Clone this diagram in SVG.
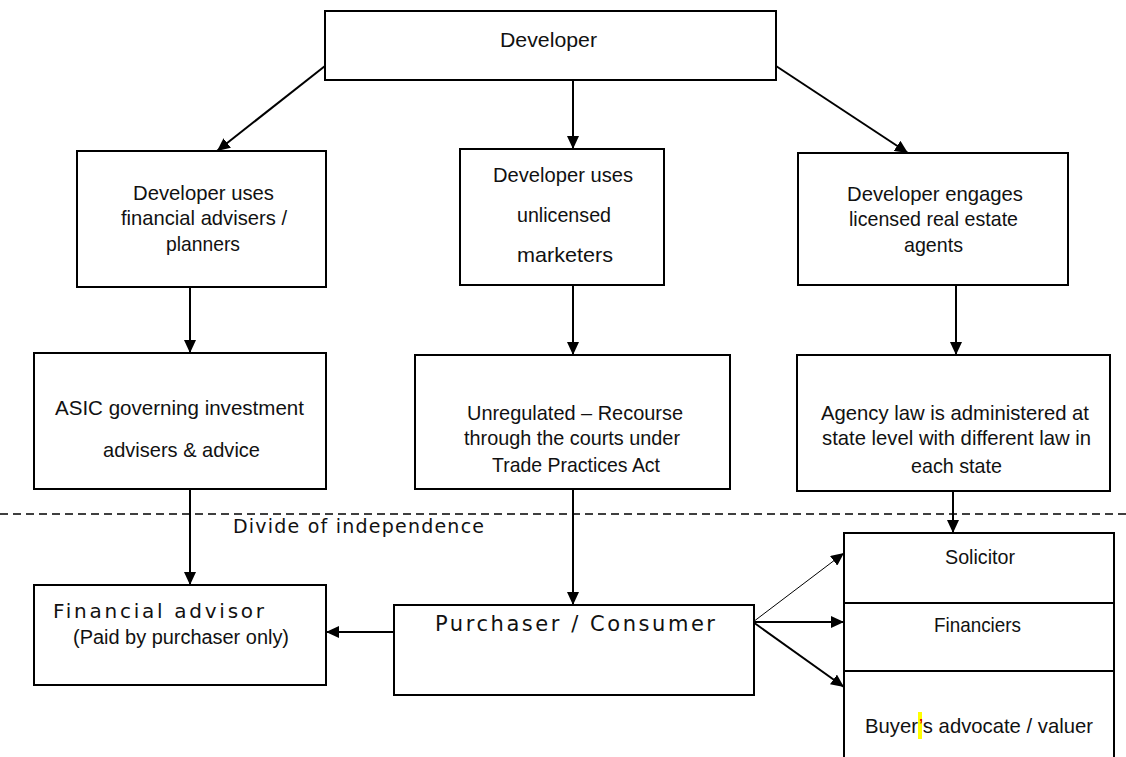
<svg xmlns="http://www.w3.org/2000/svg" width="1126" height="757" viewBox="0 0 1126 757">
<style>
.box{fill:#fff;stroke:#000;stroke-width:2}
.t{font-family:"Liberation Sans",Arial,sans-serif;font-size:21px;fill:#111}
.v{font-family:"DejaVu Sans",Verdana,sans-serif;font-size:19px;fill:#111}
.c{stroke:#000;stroke-width:2;fill:none}
</style>
<defs>
<marker id="ah" markerWidth="13" markerHeight="12" refX="13" refY="6" orient="auto" markerUnits="userSpaceOnUse"><path d="M0,0 L13,6 L0,12 z" fill="#000"/></marker>
</defs>
<rect width="1126" height="757" fill="#fff"/>
<g id="connectors">
<line class="c" x1="325" y1="66" x2="217" y2="151" marker-end="url(#ah)"/>
<line class="c" x1="573" y1="80" x2="573" y2="149" marker-end="url(#ah)"/>
<line class="c" x1="776" y1="66" x2="908" y2="153" marker-end="url(#ah)"/>
<line class="c" x1="190" y1="287" x2="190" y2="353" marker-end="url(#ah)"/>
<line class="c" x1="573" y1="285" x2="573" y2="355" marker-end="url(#ah)"/>
<line class="c" x1="956" y1="285" x2="956" y2="355" marker-end="url(#ah)"/>
<line class="c" x1="190" y1="489" x2="190" y2="585" marker-end="url(#ah)"/>
<line class="c" x1="573" y1="489" x2="573" y2="605" marker-end="url(#ah)"/>
<line class="c" x1="953" y1="491" x2="953" y2="533" marker-end="url(#ah)"/>
<line class="c" x1="394" y1="632" x2="326" y2="632" marker-end="url(#ah)"/>
<line class="c" x1="753" y1="622" x2="844" y2="553" marker-end="url(#ah)" style="stroke-width:1"/>
<line class="c" x1="753" y1="622" x2="844" y2="622" marker-end="url(#ah)"/>
<line class="c" x1="753" y1="622" x2="844" y2="687" marker-end="url(#ah)"/>
</g>
<g id="divide">
<line x1="0" y1="514" x2="1126" y2="514" stroke="#000" stroke-width="1.5" stroke-dasharray="8,5"/>
<text class="v" x="233" y="533" textLength="251" lengthAdjust="spacing" style="font-size:19px">Divide of independence</text>
</g>
<g id="developer">
<rect class="box" x="325" y="11" width="451" height="69"/>
<text class="t" x="500" y="47" textLength="97" lengthAdjust="spacingAndGlyphs">Developer</text>
</g>
<g id="fin-advisers">
<rect class="box" x="77" y="151" width="249" height="136"/>
<text class="t" x="133" y="200" textLength="141" lengthAdjust="spacingAndGlyphs">Developer uses</text>
<text class="t" x="121" y="225" textLength="166" lengthAdjust="spacingAndGlyphs">financial advisers /</text>
<text class="t" x="166" y="251" textLength="74" lengthAdjust="spacingAndGlyphs">planners</text>
</g>
<g id="unlicensed">
<rect class="box" x="460" y="149" width="204" height="136"/>
<text class="t" x="493" y="182" textLength="140" lengthAdjust="spacingAndGlyphs">Developer uses</text>
<text class="t" x="517" y="222" textLength="94" lengthAdjust="spacingAndGlyphs">unlicensed</text>
<text class="t" x="517" y="262" textLength="96" lengthAdjust="spacingAndGlyphs">marketers</text>
</g>
<g id="agents">
<rect class="box" x="798" y="153" width="270" height="132"/>
<text class="t" x="847" y="201" textLength="176" lengthAdjust="spacingAndGlyphs">Developer engages</text>
<text class="t" x="849" y="226" textLength="169" lengthAdjust="spacingAndGlyphs">licensed real estate</text>
<text class="t" x="904" y="252" textLength="59" lengthAdjust="spacingAndGlyphs">agents</text>
</g>
<g id="asic">
<rect class="box" x="34" y="353" width="292" height="136"/>
<text class="t" x="55" y="415" textLength="249" lengthAdjust="spacingAndGlyphs">ASIC governing investment</text>
<text class="t" x="103" y="457" textLength="157" lengthAdjust="spacingAndGlyphs">advisers &amp; advice</text>
</g>
<g id="unregulated">
<rect class="box" x="415" y="355" width="315" height="134"/>
<text class="t" x="467" y="420" textLength="216" lengthAdjust="spacingAndGlyphs">Unregulated – Recourse</text>
<text class="t" x="464" y="445" textLength="216" lengthAdjust="spacingAndGlyphs">through the courts under</text>
<text class="t" x="492" y="472" textLength="168" lengthAdjust="spacingAndGlyphs">Trade Practices Act</text>
</g>
<g id="agency-law">
<rect class="box" x="797" y="355" width="313" height="136"/>
<text class="t" x="821" y="420" textLength="268" lengthAdjust="spacingAndGlyphs">Agency law is administered at</text>
<text class="t" x="822" y="445" textLength="269" lengthAdjust="spacingAndGlyphs">state level with different law in</text>
<text class="t" x="911" y="473" textLength="91" lengthAdjust="spacingAndGlyphs">each state</text>
</g>
<g id="financial-advisor">
<rect class="box" x="34" y="585" width="292" height="100"/>
<text class="v" x="53" y="618" textLength="211" lengthAdjust="spacing" style="font-size:20px">Financial advisor</text>
<text class="t" x="73" y="644" textLength="216" lengthAdjust="spacingAndGlyphs" style="font-size:20px">(Paid by purchaser only)</text>
</g>
<g id="purchaser">
<rect class="box" x="394" y="605" width="360" height="90"/>
<text class="v" x="435" y="631" textLength="280" lengthAdjust="spacing" style="font-size:21px">Purchaser / Consumer</text>
</g>
<g id="advisers-stack">
<rect class="box" x="844" y="533" width="270" height="230"/>
<line x1="844" y1="603" x2="1114" y2="603" stroke="#000" stroke-width="2"/>
<line x1="844" y1="671" x2="1114" y2="671" stroke="#000" stroke-width="2"/>
<text class="t" x="945" y="564" textLength="70" lengthAdjust="spacingAndGlyphs">Solicitor</text>
<text class="t" x="934" y="632" textLength="87" lengthAdjust="spacingAndGlyphs">Financiers</text>
<rect x="918" y="712" width="4" height="27" fill="#ffff00"/>
<text class="t" x="865" y="733" textLength="228" lengthAdjust="spacingAndGlyphs">Buyer<tspan fill="#e00000">’</tspan>s advocate / valuer</text>
</g>
</svg>
